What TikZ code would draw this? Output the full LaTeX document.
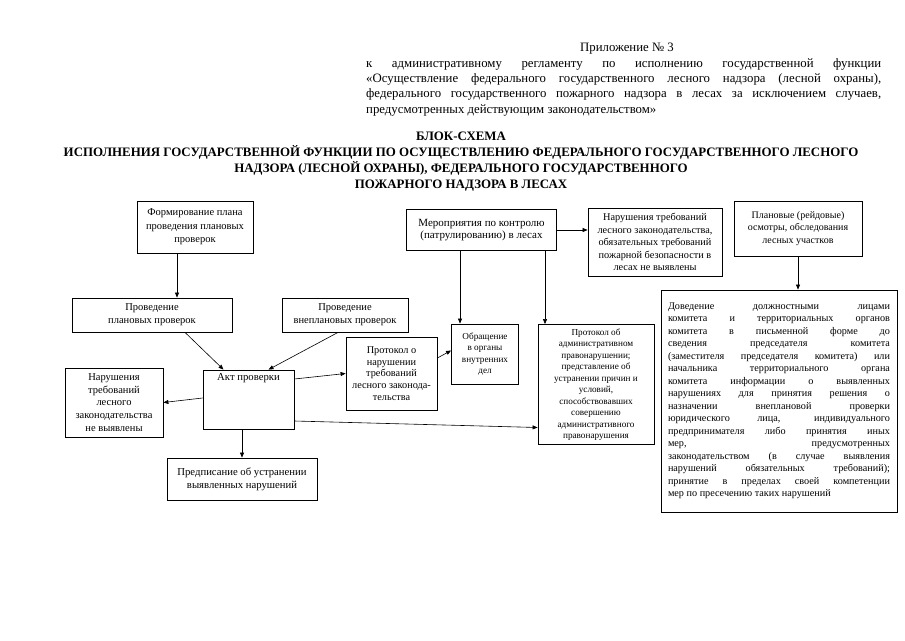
\documentclass[tikz,border=0pt]{standalone}
\usepackage{fontspec}
\setmainfont{Liberation Serif}
\usetikzlibrary{arrows.meta}
\tikzset{
  blk/.style  ={draw, line width=0.8pt, align=center, inner sep=2pt,
                font=\fontsize{10.5}{12.8}\selectfont},
  sblk/.style ={blk, font=\fontsize{9.2}{11.5}\selectfont},
  anc/.style  ={-{Triangle[length=5pt,width=4pt]}, line width=0.6pt},
  hdr/.style  ={font=\fontsize{12.8}{15.4}\selectfont},
  ttl/.style  ={font=\bfseries\fontsize{12.9}{16}\selectfont, align=center},
}
\newcommand{\jl}[2]{\makebox[#1][s]{#2}}

\begin{document}
\begin{tikzpicture}[x=1pt,y=-1pt]
  \useasboundingbox (0,0) rectangle (905,640);
  % header
  \node[hdr] (pril) at (627,49) {Приложение № 3};
  \node[hdr, anchor=north west, text width=515pt, align=justify, inner sep=0pt] (reg) at (366,58)
    {к административному регламенту по исполнению государственной функции\linebreak
     «Осуществление федерального государственного лесного надзора (лесной охраны),\linebreak
     федерального государственного пожарного надзора в лесах за исключением случаев,\linebreak
     предусмотренных действующим законодательством»};
  \node[ttl] (ttl) at (461,162)
    {БЛОК-СХЕМА\\
     ИСПОЛНЕНИЯ ГОСУДАРСТВЕННОЙ ФУНКЦИИ ПО ОСУЩЕСТВЛЕНИЮ ФЕДЕРАЛЬНОГО ГОСУДАРСТВЕННОГО ЛЕСНОГО\\
     НАДЗОРА (ЛЕСНОЙ ОХРАНЫ), ФЕДЕРАЛЬНОГО ГОСУДАРСТВЕННОГО\\
     ПОЖАРНОГО НАДЗОРА В ЛЕСАХ};
  % boxes
  \node[blk, minimum width=116pt, minimum height=52pt,
        font=\fontsize{10.5}{13.5}\selectfont] (form) at (195,227)
    {Формирование плана\\проведения плановых\\проверок};
  \node[blk, minimum width=160pt, minimum height=34pt] (plan) at (152,315)
    {Проведение\\плановых проверок};
  \node[blk, minimum width=126pt, minimum height=34pt] (vnepl) at (345,315)
    {Проведение\\внеплановых проверок};
  \node[blk, minimum width=150pt, minimum height=41pt,
        font=\fontsize{11}{11.5}\selectfont] (merop) at (481.5,230)
    {Мероприятия по контролю\\(патрулированию) в лесах};
  \node[blk, minimum width=134pt, minimum height=68pt,
        font=\fontsize{10.3}{12.4}\selectfont] (nenar) at (655,242)
    {Нарушения требований\\лесного законодательства,\\обязательных требований\\пожарной безопасности в\\лесах не выявлены};
  \node[blk, minimum width=128pt, minimum height=55pt,
        font=\fontsize{10}{12.5}\selectfont] (reid) at (798,228.5)
    {Плановые (рейдовые)\\осмотры, обследования\\лесных участков};
  \node[blk, minimum width=236pt, minimum height=222pt, align=left,
        font=\fontsize{10.2}{12.5}\selectfont] (dovod) at (779,401)
    {\jl{222pt}{Доведение должностными лицами}\\
     \jl{222pt}{комитета и территориальных органов}\\
     \jl{222pt}{комитета в письменной форме до}\\
     \jl{222pt}{сведения председателя комитета}\\
     \jl{222pt}{(заместителя председателя комитета) или}\\
     \jl{222pt}{начальника территориального органа}\\
     \jl{222pt}{комитета информации о выявленных}\\
     \jl{222pt}{нарушениях для принятия решения о}\\
     \jl{222pt}{назначении внеплановой проверки}\\
     \jl{222pt}{юридического лица, индивидуального}\\
     \jl{222pt}{предпринимателя либо принятия иных}\\
     \jl{222pt}{мер, предусмотренных}\\
     \jl{222pt}{законодательством (в случае выявления}\\
     \jl{222pt}{нарушений обязательных требований);}\\
     \jl{222pt}{принятие в пределах своей компетенции}\\
     мер по пресечению таких нарушений};
  \node[sblk, minimum width=67pt, minimum height=60pt] (obr) at (485,354)
    {Обращение\\в органы\\внутренних\\дел};
  \node[sblk, minimum width=116pt, minimum height=120pt] (prot) at (596,384.5)
    {Протокол об\\административном\\правонарушении;\\представление об\\устранении причин и\\условий,\\способствовавших\\совершению\\административного\\правонарушения};
  \node[blk, minimum width=91pt, minimum height=73pt,
        font=\fontsize{10.3}{11.6}\selectfont] (protn) at (391.5,373.5)
    {Протокол о\\нарушении\\требований\\лесного законода-\\тельства};
  \node[blk, minimum width=91pt, text height=8pt, text depth=47pt,
        font=\fontsize{10.7}{12.8}\selectfont] (akt) at (248.5,399.5)
    {Акт проверки};
  \node[blk, minimum width=98pt, minimum height=69pt,
        font=\fontsize{10.5}{12.7}\selectfont] (nevyy) at (114,402.5)
    {Нарушения\\требований\\лесного\\законодательства\\не выявлены};
  \node[blk, minimum width=150pt, minimum height=42pt,
        font=\fontsize{10.7}{13}\selectfont] (predp) at (242,479)
    {Предписание об устранении\\выявленных нарушений};
  % connectors
  \draw[anc] ([xshift=-18pt]form.south) -- ([xshift=-18pt]form.south |- plan.north);
  \draw[anc] ([xshift=33pt]plan.south) -- ([xshift=-25pt]akt.north);
  \draw[anc] ([xshift=-7pt]vnepl.south) -- ([xshift=20pt]akt.north);
  \draw[anc] ([xshift=-21.5pt]merop.south) -- ([xshift=-21.5pt]merop.south |- obr.north);
  \draw[anc] ([xshift=63.5pt]merop.south) -- ([xshift=63.5pt]merop.south |- prot.north);
  \draw[anc] (merop.east) -- (merop.east -| nenar.west);
  \draw[anc] (reid.south) -- (reid.south |- dovod.north);
  \draw[anc] ([yshift=20.5pt]akt.east) -- (protn.west);
  \draw[anc] ([yshift=15.5pt]protn.east) -- ([yshift=3.5pt]obr.west);
  \draw[anc] ([yshift=-21.5pt]akt.east) -- ([yshift=-43pt]prot.west);
  \draw[anc] ([yshift=1.5pt]akt.west) -- (nevyy.east);
  \draw[anc] ([xshift=-6.5pt]akt.south) -- ([xshift=-6.5pt]akt.south |- predp.north);
\end{tikzpicture}
\end{document}
